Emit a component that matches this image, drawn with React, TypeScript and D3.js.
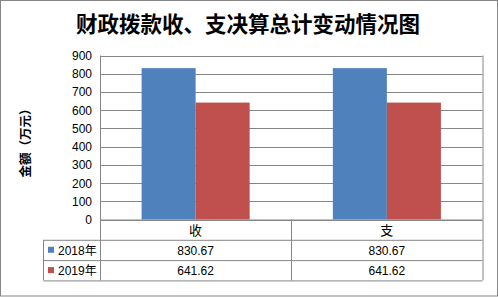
import React from "react";
import * as d3 from "d3";

const categories = ["收", "支"];
const seriesNames = ["2018年", "2019年"];
const values2018 = [830.67, 830.67];
const values2019 = [641.62, 641.62];
const valueLabels2018 = ["830.67", "830.67"];
const valueLabels2019 = ["641.62", "641.62"];
const yTicks = [0, 100, 200, 300, 400, 500, 600, 700, 800, 900];
const colors = ["#4F81BD", "#C0504D"];

export default function App() {
  const W = 498, H = 297;
  const left = 100, right = 482.5, top = 55.5, bottom = 219.5;
  const legendLeft = 43.5;
  const rowH = 20.3;
  const y = d3.scaleLinear().domain([0, 900]).range([bottom, top]);
  const x0 = d3.scaleBand().domain(categories).range([left, right]).paddingInner(0).paddingOuter(0);
  const inner = d3.scaleBand().domain(seriesNames).range([0, x0.bandwidth()]).paddingInner(0).paddingOuter(0.77);
  const series = [values2018, values2019];
  const labels = [valueLabels2018, valueLabels2019];
  const font = "'Liberation Sans', Arial, 'Noto Sans CJK SC', sans-serif";
  const grid = "#868686";
  return (
    <svg width={W} height={H} style={{ position: "absolute", left: 0, top: 0 }}>
      <rect x={0.5} y={0.5} width={W - 1} height={H - 1.5} fill="#fff" stroke="#868686" />
      <text x={248} y={32} textAnchor="middle" fontFamily="'Noto Sans CJK SC', sans-serif" fontWeight="bold" fontSize={21.5} fill="#000">
        财政拨款收、支决算总计变动情况图
      </text>
      <text transform={`translate(30,140) rotate(-90)`} textAnchor="middle" fontFamily="'Noto Sans CJK SC', sans-serif" fontWeight="bold" fontSize={12.5} fill="#000">
        金额（万元）
      </text>
      {yTicks.map(t => (
        <g key={t}>
          <line x1={left} x2={right} y1={Math.round(y(t)) + 0.5} y2={Math.round(y(t)) + 0.5} stroke={grid} strokeWidth={1} />
          <text x={92} y={y(t) + 4.5} textAnchor="end" fontFamily={font} fontSize={12} fill="#000">{t}</text>
        </g>
      ))}
      <line x1={left + 0.5} x2={left + 0.5} y1={top} y2={bottom + rowH} stroke={grid} />
      {categories.map((c, ci) =>
        seriesNames.map((s, si) => (
          <rect key={c + s} x={(x0(c) as number) + (inner(s) as number)} y={y(series[si][ci])}
            width={inner.bandwidth()} height={bottom - y(series[si][ci])} fill={colors[si]} />
        ))
      )}
      {/* data table */}
      <g fill="none" stroke={grid} strokeWidth={1}>
        <line x1={left} x2={right} y1={bottom + 0.5} y2={bottom + 0.5} />
        <line x1={right + 0.5} x2={right + 0.5} y1={top} y2={bottom + rowH * 3} />
        <line x1={legendLeft} x2={right} y1={bottom + rowH + 0.5} y2={bottom + rowH + 0.5} />
        <line x1={legendLeft} x2={right} y1={bottom + rowH * 2 + 0.5} y2={bottom + rowH * 2 + 0.5} />
        <line x1={legendLeft} x2={right} y1={bottom + rowH * 3 + 0.5} y2={bottom + rowH * 3 + 0.5} />
        <line x1={legendLeft} x2={legendLeft} y1={bottom + rowH} y2={bottom + rowH * 3} />
        <line x1={left + 0.5} x2={left + 0.5} y1={bottom + rowH} y2={bottom + rowH * 3} />
        {categories.slice(1).map(c => (
          <line key={c} x1={Math.round(x0(c) as number) + 0.5} x2={Math.round(x0(c) as number) + 0.5} y1={bottom} y2={bottom + rowH * 3} />
        ))}
      </g>
      {categories.map(c => (
        <text key={c} x={(x0(c) as number) + x0.bandwidth() / 2} y={bottom + 15} textAnchor="middle" fontFamily="'Noto Sans CJK SC', sans-serif" fontSize={13} fill="#000">{c}</text>
      ))}
      {seriesNames.map((s, si) => (
        <g key={s}>
          <rect x={48} y={bottom + rowH * (si + 1) + 7} width={6} height={6} fill={colors[si]} />
          <text x={58} y={bottom + rowH * (si + 1) + 15} fontFamily="'Liberation Sans', Arial, 'Noto Sans CJK SC', sans-serif" fontSize={12} fill="#000">{s}</text>
          {categories.map((c, ci) => (
            <text key={c} x={(x0(c) as number) + x0.bandwidth() / 2} y={bottom + rowH * (si + 1) + 15} textAnchor="middle" fontFamily={font} fontSize={12} fill="#000">{labels[si][ci]}</text>
          ))}
        </g>
      ))}
    </svg>
  );
}
